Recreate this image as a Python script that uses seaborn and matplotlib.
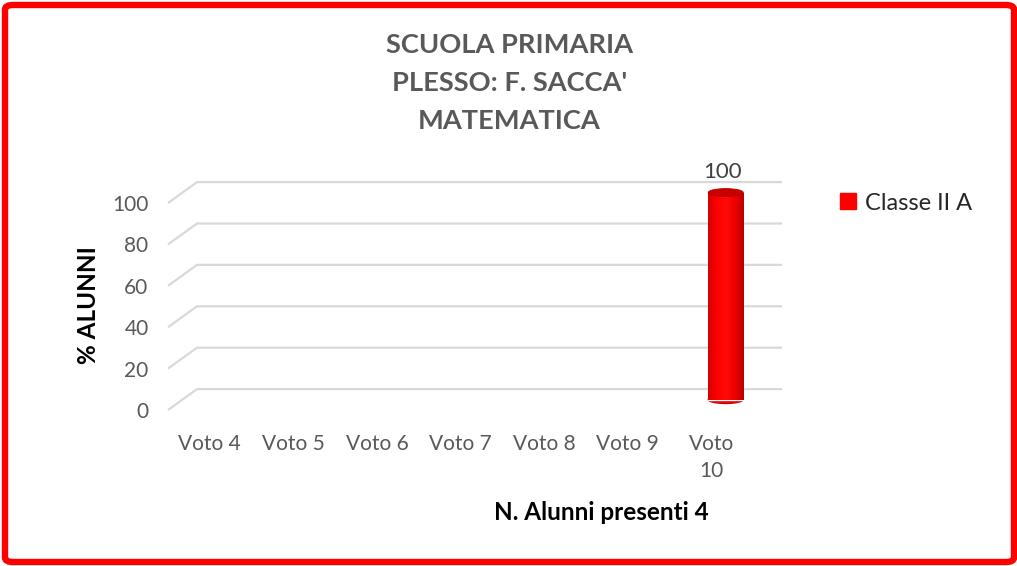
import matplotlib
matplotlib.use("Agg")
import matplotlib.pyplot as plt
import numpy as np
import pandas as pd
import seaborn as sns
from matplotlib.colors import LinearSegmentedColormap
from matplotlib.patches import Ellipse, FancyBboxPatch, Patch

# data
CATEGORIES = ["Voto 4", "Voto 5", "Voto 6", "Voto 7", "Voto 8", "Voto 9", "Voto 10"]
TICK_LABELS = ["Voto 4", "Voto 5", "Voto 6", "Voto 7", "Voto 8", "Voto 9", "Voto\n10"]
VALUES = [0, 0, 0, 0, 0, 0, 100]
SERIES = "Classe II A"
Y_TICKS = [0, 20, 40, 60, 80, 100]

TITLE = "SCUOLA PRIMARIA\nPLESSO: F. SACCA'\nMATEMATICA"
Y_LABEL = "% ALUNNI"
X_LABEL = "N. Alunni presenti 4"

GREY = "#595959"
GRID = "#d9d9d9"
RED = "#ff0000"

# fake 3D depth of the back wall, in data units
DX = 0.347
DY = 10.1

sns.set_theme(style="white")
plt.rcParams["font.family"] = ["Lato", "DejaVu Sans"]

df = pd.DataFrame({"voto": CATEGORIES, "pct": VALUES, "serie": SERIES})

fig = plt.figure(figsize=(10.17, 5.66), dpi=100)
ax = fig.add_axes([168 / 1017, 1 - 410 / 566, 585 / 1017, 207 / 566])

sns.barplot(data=df, x="voto", y="pct", hue="serie", palette=[RED],
            width=0.42, dodge=False, legend=False, ax=ax, zorder=3)

ax.set_xlim(-0.5, len(CATEGORIES) - 0.5)
ax.set_ylim(0, 100)

# back wall gridlines with the short diagonal "floor" segment
x0, x1 = ax.get_xlim()
for v in Y_TICKS:
    ax.plot([x0, x0 + DX, x1 + DX], [v, v + DY, v + DY], color=GRID, lw=1.6,
            clip_on=False, zorder=1, solid_capstyle="butt")

# turn the flat bars into cylinders sitting half way into the depth
shade = LinearSegmentedColormap.from_list(
    "cyl", ["#d40000", "#ff0000", "#ff0a0a", "#f00000", "#b80000"])
grad = np.linspace(0, 1, 256)[np.newaxis, :]
eh = 3.8  # ellipse height in data units
for p in list(ax.patches):
    h = p.get_height()
    if h <= 0:
        p.set_visible(False)
        continue
    p.set_x(p.get_x() + DX / 2)
    p.set_y(DY / 2)
    p.set_clip_on(False)
    bx, bw = p.get_x(), p.get_width()
    cx = bx + bw / 2
    base, top = DY / 2, DY / 2 + h
    ax.add_patch(Ellipse((cx, base), bw, eh, color="#e00000", zorder=2.9,
                         clip_on=False))
    im = ax.imshow(grad, extent=[bx, bx + bw, base, top], aspect="auto",
                   cmap=shade, zorder=3.1, clip_on=False)
    im.set_clip_path(p)
    ax.add_patch(Ellipse((cx, top), bw, eh, facecolor="#c80000",
                         edgecolor="#b00000", lw=0.6, zorder=3.2, clip_on=False))
    ax.annotate(f"{h:.0f}", xy=(cx - DX * 0.12, top + eh / 2), xytext=(0, 5),
                textcoords="offset points", ha="center", va="bottom",
                fontsize=16, color="#404040", annotation_clip=False)

ax.set_xlim(x0, x1)
ax.set_ylim(0, 100)
ax.set_yticks(Y_TICKS)
ax.set_xticks(range(len(CATEGORIES)))
ax.set_xticklabels(TICK_LABELS, linespacing=1.45)
ax.tick_params(axis="y", length=0, pad=14, labelsize=15, labelcolor=GREY)
ax.tick_params(axis="x", length=0, pad=17, labelsize=15, labelcolor=GREY)
for s in ax.spines.values():
    s.set_visible(False)
ax.set_xlabel("")
ax.set_ylabel("")
ax.set_facecolor("none")

fig.text(0.5 + 1 / 1017, 1 - 83 / 566, TITLE, ha="center", va="center",
         fontsize=19.6, fontweight="bold", color=GREY, linespacing=1.7)
fig.text(88 / 1017, 1 - 305 / 566, Y_LABEL, rotation=90, ha="center",
         va="center", fontsize=17.5, fontweight="bold", color="black")
fig.text(601 / 1017, 1 - 512 / 566, X_LABEL, ha="center", va="center",
         fontsize=17.5, fontweight="bold", color="black")

fig.legend(handles=[Patch(color=RED, label=SERIES)], loc="center left",
           bbox_to_anchor=(819 / 1017, 1 - 203 / 566), frameon=False,
           handlelength=0.65, handleheight=0.65, handletextpad=0.4,
           fontsize=17, labelcolor="#262626")

# red rounded frame round the whole picture
fig.patches.append(FancyBboxPatch(
    (5 / 1017, 4 / 566), 1 - 8 / 1017, 1 - 9 / 566,
    boxstyle="round,pad=0,rounding_size=0.008", transform=fig.transFigure,
    fill=False, edgecolor=RED, lw=4.6))

fig.savefig("out.png", dpi=100)
